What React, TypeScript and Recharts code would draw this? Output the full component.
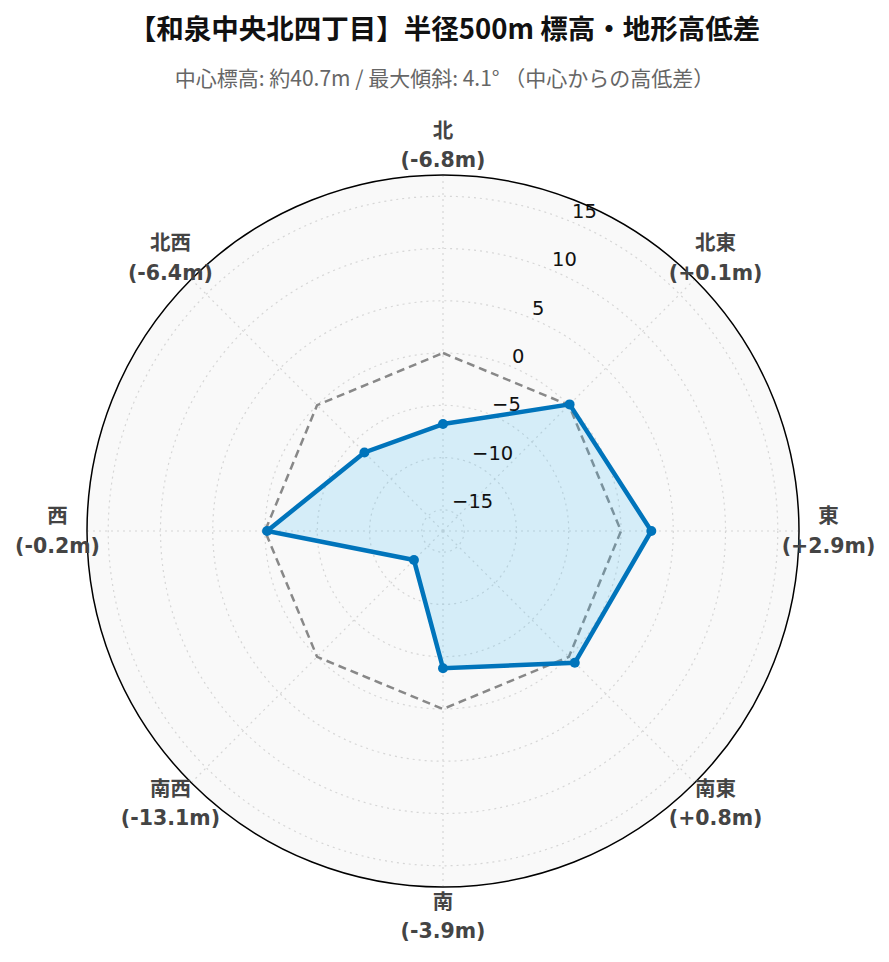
import React from 'react';
import { RadarChart, Radar, PolarGrid, PolarAngleAxis, PolarRadiusAxis } from 'recharts';

const directions = ['北', '北東', '東', '南東', '南', '南西', '西', '北西'];
const diffs = [-6.8, 0.1, 2.9, 0.8, -3.9, -13.1, -0.2, -6.4];
const baseline = [0, 0, 0, 0, 0, 0, 0, 0];
const diffLabels = ['(-6.8m)', '(+0.1m)', '(+2.9m)', '(+0.8m)', '(-3.9m)', '(-13.1m)', '(-0.2m)', '(-6.4m)'];
const radialTicks = [-15, -10, -5, 0, 5, 10, 15];
const radialDomain: [number, number] = [-17.03, 17.03];

const titleText = '【和泉中央北四丁目】半径500m 標高・地形高低差';
const subtitleText = '中心標高: 約40.7m / 最大傾斜: 4.1° （中心からの高低差）';

const data = directions.map((d, i) => ({ dir: d, diff: diffs[i], base: baseline[i], label: diffLabels[i] }));

const LABEL_FONT = '"DejaVu Sans", "Noto Sans CJK JP", sans-serif';

const AngleTick = (props: any) => {
  const { x, y, payload } = props;
  const i = directions.indexOf(payload.value);
  return (
    <g>
      <text x={x} y={y} textAnchor="middle" fontFamily={LABEL_FONT} fontWeight="bold" fontSize={20.5} fill="#444">
        <tspan x={x} dy={-8}>{payload.value}</tspan>
        <tspan x={x} dy={29.5}>{diffLabels[i]}</tspan>
      </text>
    </g>
  );
};

const RadiusTick = (props: any) => {
  const { x, y, payload } = props;
  const v = Number(payload.value);
  const txt = v < 0 ? '\u2212' + Math.abs(v) : String(v);
  return (
    <text x={x + 1} y={y} dy={-3.5} textAnchor="start" fontFamily={LABEL_FONT} fontSize={19.5} fill="#111">
      {txt}
    </text>
  );
};

export default function App() {
  return (
    <div style={{ position: 'absolute', left: 0, top: 0, width: 889, height: 962, background: '#fff' }}>
      <div style={{ position: 'absolute', left: 443 - 356, top: 531 - 356, width: 712, height: 712, borderRadius: '50%', background: '#f9f9f9' }} />
      <div
        style={{
          position: 'absolute', left: 0, top: 7, width: 889, textAlign: 'center',
          fontFamily: '"Noto Sans CJK JP", sans-serif', fontWeight: 'bold', fontSize: 27.5, color: '#111', lineHeight: '40px',
        }}
      >
        {titleText}
      </div>
      <div
        style={{
          position: 'absolute', left: 0, top: 62, width: 889, textAlign: 'center',
          fontFamily: '"Noto Sans CJK JP", sans-serif', fontSize: 21, color: '#666', lineHeight: '30px',
        }}
      >
        {subtitleText}
      </div>
      <div style={{ position: 'absolute', left: 0, top: 0 }}>
        <RadarChart width={889} height={962} data={data} cx={443} cy={531} outerRadius={356} margin={{ top: 0, right: 0, bottom: 0, left: 0 }}>
          <PolarGrid gridType="circle" stroke="#d6d6d6" strokeDasharray="2 4" strokeWidth={1.2} />
          <PolarRadiusAxis
            angle={67.5}
            type="number"
            domain={radialDomain}
            ticks={radialTicks}
            axisLine={false}
            tickLine={false}
            tick={<RadiusTick />}
          />
          <Radar
            dataKey="base"
            stroke="#888"
            strokeWidth={2.5}
            strokeDasharray="8 5"
            fill="none"
            fillOpacity={0}
            dot={false}
            isAnimationActive={false}
          />
          <Radar
            dataKey="diff"
            stroke="#0074bb"
            strokeWidth={4.5}
            fill="#44bdf5"
            fillOpacity={0.2}
            dot={{ r: 5, fill: '#0074bb', fillOpacity: 1, stroke: '#0074bb', strokeWidth: 0 }}
            isAnimationActive={false}
          />
          <PolarAngleAxis
            dataKey="dir"
            axisLineType="circle"
            axisLine={{ stroke: '#000', strokeWidth: 1.5 }}
            stroke="#000"
            tickLine={false}
            tickSize={29.5}
            tick={<AngleTick />}
          />
        </RadarChart>
      </div>
    </div>
  );
}
